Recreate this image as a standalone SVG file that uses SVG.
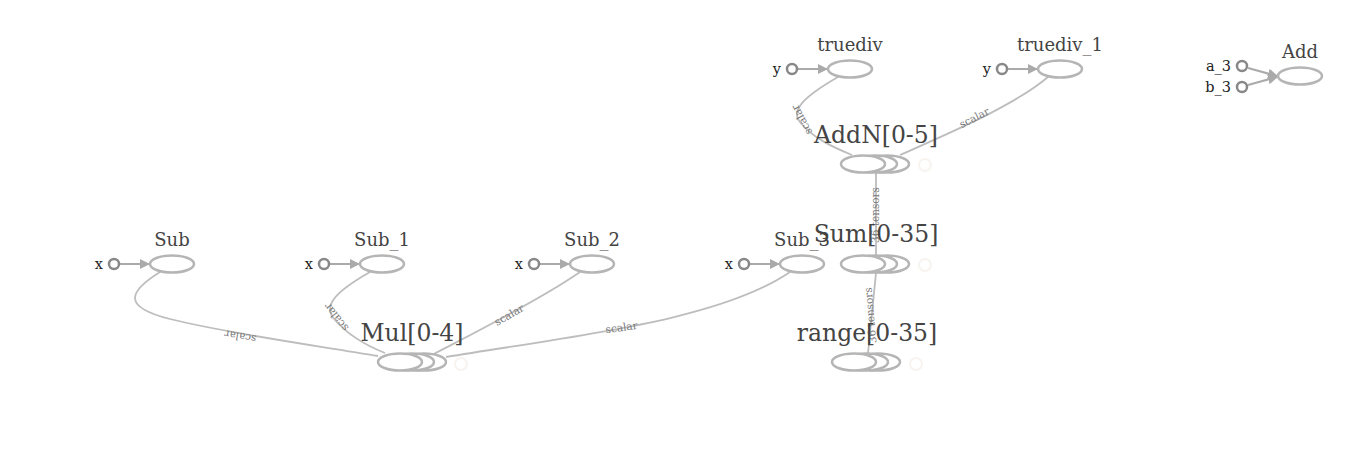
<svg xmlns="http://www.w3.org/2000/svg" width="1348" height="456" viewBox="0 0 1348 456">
<defs>
<style>
.op{fill:#fff;stroke:#b5b5b5;stroke-width:2.5}
.in{fill:#fff;stroke:#888;stroke-width:2.5}
.ghost{fill:#fff;stroke:#f7f4ef;stroke-width:2}
.lbl{font-family:"DejaVu Serif",serif;font-size:18px;fill:#444;text-anchor:middle}
.big{font-family:"DejaVu Serif",serif;font-size:23.5px;fill:#444;text-anchor:middle}
.inl{font-family:"DejaVu Serif",serif;font-size:14.5px;fill:#222;text-anchor:end}
.el{font-family:"DejaVu Serif",serif;font-size:10.5px;fill:#777;text-anchor:middle}
.edge{fill:none;stroke:#bdbdbd;stroke-width:1.8}
.arr{fill:none;stroke:#aaa;stroke-width:2}
</style>
<marker id="ah" viewBox="0 0 10 10" refX="9" refY="5" markerWidth="5" markerHeight="5" orient="auto" markerUnits="strokeWidth">
<path d="M0,0 L10,5 L0,10 z" fill="#aaa"/>
</marker>
</defs>
<rect width="1348" height="456" fill="#fff"/>

<g id="connectors">
<path class="edge" d="M160,272 C128,292 122,307 170,319 C230,334 320,346 378,356"/>
<path class="edge" d="M370,272 C335,292 322,306 335,320 C348,335 365,345 385,353"/>
<path class="edge" d="M580,272 C540,300 470,335 432,355"/>
<path class="edge" d="M790,272 C720,320 580,335 446,357"/>
<path class="edge" d="M838,77 C805,96 790,110 800,122 C812,138 835,148 852,155"/>
<path class="edge" d="M1048,77 C1015,105 950,133 900,155"/>
<path class="edge" d="M876,173 L876,255"/>
<path class="edge" d="M876,273 L868,353"/>
<text class="el" transform="translate(241,333) rotate(190)">scalar</text>
<text class="el" transform="translate(339,315) rotate(232)">scalar</text>
<text class="el" transform="translate(511,318) rotate(-30)">scalar</text>
<text class="el" transform="translate(622,331) rotate(-8)">scalar</text>
<text class="el" transform="translate(805,118) rotate(242)">scalar</text>
<text class="el" transform="translate(976,121) rotate(-27)">scalar</text>
<text class="el" transform="translate(879,215) rotate(-90)">36 tensors</text>
<text class="el" transform="translate(874,315) rotate(-95)">36 tensors</text>
</g>

<g id="Sub">
<text class="lbl" x="172" y="246">Sub</text>
<line class="arr" x1="120" y1="264" x2="149" y2="264" marker-end="url(#ah)"/>
<circle class="in" cx="114" cy="264" r="5"/>
<text class="inl" x="103" y="269">x</text>
<ellipse class="op" cx="172" cy="264" rx="22" ry="8.5"/>
</g>
<g id="Sub_1">
<text class="lbl" x="382" y="246">Sub_1</text>
<line class="arr" x1="330" y1="264" x2="359" y2="264" marker-end="url(#ah)"/>
<circle class="in" cx="324" cy="264" r="5"/>
<text class="inl" x="313" y="269">x</text>
<ellipse class="op" cx="382" cy="264" rx="22" ry="8.5"/>
</g>
<g id="Sub_2">
<text class="lbl" x="592" y="246">Sub_2</text>
<line class="arr" x1="540" y1="264" x2="569" y2="264" marker-end="url(#ah)"/>
<circle class="in" cx="534" cy="264" r="5"/>
<text class="inl" x="523" y="269">x</text>
<ellipse class="op" cx="592" cy="264" rx="22" ry="8.5"/>
</g>
<g id="Sub_3">
<text class="lbl" x="802" y="246">Sub_3</text>
<line class="arr" x1="750" y1="264" x2="779" y2="264" marker-end="url(#ah)"/>
<circle class="in" cx="744" cy="264" r="5"/>
<text class="inl" x="733" y="269">x</text>
<ellipse class="op" cx="802" cy="264" rx="22" ry="8.5"/>
</g>
<g id="truediv">
<text class="lbl" x="850" y="51">truediv</text>
<line class="arr" x1="798" y1="69" x2="827" y2="69" marker-end="url(#ah)"/>
<circle class="in" cx="792" cy="69" r="5"/>
<text class="inl" x="781" y="74">y</text>
<ellipse class="op" cx="850" cy="69" rx="22" ry="8.5"/>
</g>
<g id="truediv_1">
<text class="lbl" x="1060" y="51">truediv_1</text>
<line class="arr" x1="1008" y1="69" x2="1037" y2="69" marker-end="url(#ah)"/>
<circle class="in" cx="1002" cy="69" r="5"/>
<text class="inl" x="991" y="74">y</text>
<ellipse class="op" cx="1060" cy="69" rx="22" ry="8.5"/>
</g>
<g id="Add">
<text class="lbl" x="1300" y="58">Add</text>
<line class="arr" x1="1248" y1="68" x2="1277" y2="76" marker-end="url(#ah)"/>
<line class="arr" x1="1248" y1="85" x2="1277" y2="77" marker-end="url(#ah)"/>
<circle class="in" cx="1242" cy="66" r="5"/>
<circle class="in" cx="1242" cy="87" r="5"/>
<text class="inl" x="1231" y="71">a_3</text>
<text class="inl" x="1231" y="92">b_3</text>
<ellipse class="op" cx="1300" cy="76" rx="22" ry="8.5"/>
</g>

<g id="AddN">
<circle class="ghost" cx="925" cy="165" r="6"/>
<ellipse class="op" cx="887" cy="164" rx="22" ry="8.5"/>
<ellipse class="op" cx="875" cy="164" rx="22" ry="8.5"/>
<ellipse class="op" cx="863" cy="164" rx="22" ry="8.5"/>
<text class="big" x="876" y="143">AddN[0-5]</text>
</g>
<g id="Sum">
<circle class="ghost" cx="925" cy="265" r="6"/>
<ellipse class="op" cx="887" cy="264" rx="22" ry="8.5"/>
<ellipse class="op" cx="875" cy="264" rx="22" ry="8.5"/>
<ellipse class="op" cx="863" cy="264" rx="22" ry="8.5"/>
<text class="big" x="876" y="242">Sum[0-35]</text>
</g>
<g id="range">
<circle class="ghost" cx="916" cy="364" r="6"/>
<ellipse class="op" cx="878" cy="362" rx="22" ry="8.5"/>
<ellipse class="op" cx="866" cy="362" rx="22" ry="8.5"/>
<ellipse class="op" cx="854" cy="362" rx="22" ry="8.5"/>
<text class="big" x="867" y="341">range[0-35]</text>
</g>
<g id="Mul">
<circle class="ghost" cx="461" cy="364" r="6"/>
<ellipse class="op" cx="424" cy="362" rx="22" ry="8.5"/>
<ellipse class="op" cx="412" cy="362" rx="22" ry="8.5"/>
<ellipse class="op" cx="400" cy="362" rx="22" ry="8.5"/>
<text class="big" x="412" y="341">Mul[0-4]</text>
</g>
</svg>
